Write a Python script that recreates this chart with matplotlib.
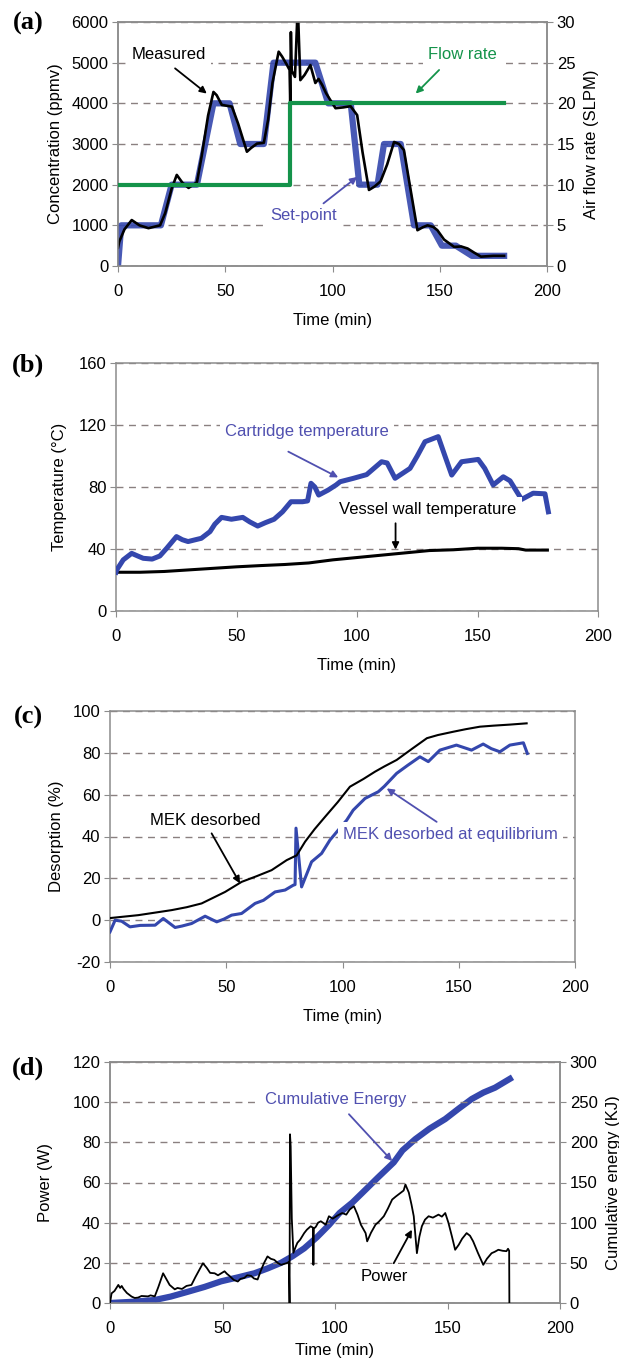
import matplotlib.pyplot as plt
import numpy as np

plt.rcParams['font.family'] = ['Liberation Sans', 'DejaVu Sans']
plt.rcParams['axes.unicode_minus'] = False

# --- (a) concentration / flow rate ---
set_t = [0, 1.5, 20, 25, 36.8, 44.5, 52, 57, 68, 72.5, 92, 98, 108.5, 112.5, 121, 124,
         131.8, 138, 145.8, 151, 157.5, 165, 180]
set_v = [0, 1000, 1000, 2000, 2000, 4000, 4000, 3000, 3000, 5000, 5000, 4000, 4000, 2000,
         2000, 3000, 3000, 1000, 1000, 500, 500, 250, 250]

meas_t = [0, 0.6, 3, 6.4, 10, 14.2, 19.6, 22, 25, 27.4,
          30, 32.9, 36.8, 39, 42, 44.5, 46, 48.4, 53.1, 56,
          60.1, 62, 64.8, 68, 70, 72, 74.9, 76.5, 78.8, 80.0,
          80.3, 80.6, 81.0, 82.5, 83.8, 85.0, 87.0, 89.7, 92, 93.5,
          95.2, 97, 99, 101.4, 105, 108.4, 111.5, 114, 117, 119.5,
          122.4, 125.5, 128.7, 131, 133.3, 136, 139.6, 142, 144.3, 147,
          148.9, 152, 156.7, 160, 163, 166, 169.2, 175, 180]
meas_v = [450, 600, 900, 1130, 1000, 930, 1000, 1300, 1900, 2240,
          2050, 1920, 2060, 2700, 3700, 4280, 4200, 3960, 3920, 3500,
          2810, 2900, 3010, 3030, 3600, 4500, 5270, 5150, 4940, 4820,
          4000, 5750, 4800, 4650, 6400, 4570, 4700, 4940, 4500, 4600,
          4450, 4250, 4080, 3880, 3900, 3930, 3710, 2800, 1870, 1950,
          2080, 2500, 3050, 3000, 2850, 2000, 880, 950, 1000, 960,
          880, 650, 470, 480, 430, 330, 230, 250, 250]

flow_t = [0, 80, 80, 180]
flow_v = [10, 10, 20, 20]

# --- (b) temperatures ---
cart_t = [0, 0.3, 3, 6.5, 9, 11.3, 15, 18.2, 21, 25.1,
          27.5, 29.9, 33, 35.4, 39, 41, 43.8, 47.9, 52.6, 55.5,
          58.8, 62, 65.6, 69.1, 72.6, 77.4, 79.5, 80.9, 82.5, 84.1,
          88, 91.3, 93, 98.5, 104, 110.2, 112.5, 115.8, 122, 125,
          128.2, 133.7, 136.5, 139.3, 143.4, 150.3, 153, 156.5, 160.7, 163.5,
          168.3, 173.1, 178, 179.4]
cart_v = [25, 26.5, 33, 37.2, 35.5, 34, 33.5, 35.5, 40.4, 48,
          46, 44.8, 46, 46.9, 51.2, 56, 60.4, 59.2, 60.4, 57.5,
          54.8, 57, 59.2, 64, 70.5, 70.5, 71, 82.4, 80, 74.8,
          78, 81.3, 83.4, 85.6, 88, 96.3, 95.5, 85.6, 92, 100,
          109.2, 112.5, 100, 87.7, 96.3, 97.8, 92, 81.3, 86.6, 84,
          72, 76, 75.6, 64]

wall_t = [0, 10, 20, 30, 40, 50, 60, 70, 80, 90,
          100, 110, 120, 130, 140, 150, 160, 167, 170, 179]
wall_v = [25, 25, 25.5, 26.5, 27.5, 28.5, 29.3, 30, 31, 33,
          34.5, 36, 37.5, 39, 39.5, 40.5, 40.5, 40.2, 39.3, 39.3]

# --- (c) desorption ---
mek_t = [0, 12.2, 26.5, 33, 39.4, 44, 49.5, 56.6, 63, 69.5, 76, 80.3,
         83.9, 88, 92.5, 98, 103.2, 109, 114, 118, 123.3, 130,
         136.3, 141, 147.7, 153, 159.1, 165, 172, 179.2]
mek_v = [1, 2.4, 4.8, 6.2, 8, 10.5, 13.5, 18.3, 21, 23.9, 28.7, 31,
         37.5, 43.5, 49.4, 56.5, 63.8, 67.5, 71, 73.5, 76.6, 82,
         87, 88.5, 90.1, 91.3, 92.5, 93, 93.5, 94.1]

eq_t = [0, 2.2, 5, 8.6, 13, 19.4, 22.9, 28, 31, 35.1,
        40.9, 45.9, 49, 52.3, 56.6, 62.4, 66, 71, 75.3, 78.8,
        79.6, 80.0, 82.4, 86.7, 91, 94.6, 98.2, 101.8, 104.6,
        109.7, 115.4, 118, 123.3, 128, 133.3, 136.9, 141.9, 149, 155.5,
        160.5, 164, 167.7, 172, 177.8, 179.5]
eq_v = [-5.6, 0, -0.5, -3.2, -2.5, -2.4, 0.8, -3.5, -2.8, -1.6,
        1.9, -0.8, 0.5, 2.4, 3.2, 8, 9.5, 13.5, 14.4, 16.7,
        17, 44, 15.9, 27.9, 31.9, 38.3, 43.1, 47.8, 52.6,
        58.2, 61.4, 64, 70.2, 74, 78.1, 75.8, 81.3, 83.7, 81.3,
        84.2, 82, 80.5, 83.7, 84.8, 79.7]

# --- (d) power / energy ---
pow_t = [0, 0.7, 2, 3.7, 4.5, 5.2, 6, 7.5, 9.6, 11,
         12.5, 14, 16.9, 18, 19.9, 21.5, 23.6, 25, 26.5, 28.8,
         30, 32, 34, 36.2, 38, 41.3, 43, 44.5, 46.5, 48,
         50.9, 52, 53.1, 55, 56.8, 58, 59.7, 61, 62.7, 64,
         65.6, 67, 68.5, 70, 71.5, 73, 74.5, 76, 77.5, 78.9,
         79.5, 79.8, 80.0, 80.3, 80.8, 81.5, 82.6, 83.3, 84.5, 86.3,
         87.5, 89.2, 90.2, 90.4, 90.6, 91.5, 92.5, 93.7, 95.9, 97.3,
         99, 101, 103.2, 105, 106.5, 108.4, 110, 111.5, 113.6, 114.3,
         116, 118, 119.5, 121.7, 123.5, 125.4, 127, 129.1, 130.5, 131.3,
         132.8, 134, 135, 136.4, 137.5, 138.6, 140, 141.6, 143.5, 146,
         147.5, 149, 150.4, 152, 153.4, 155, 156.5, 158.5, 160, 161.4,
         163.5, 165.9, 167.5, 169.6, 171, 172.6, 174.5, 176.2, 176.9, 177.4,
         177.5]
pow_v = [0, 4.8, 6, 9, 7.5, 8.5, 7, 5, 3.2, 2.5,
         2.7, 3.5, 3.3, 3.8, 3.3, 8, 14.8, 12, 9, 6.8,
         7.5, 7, 8.5, 9, 13, 19.8, 17.5, 15, 14.8, 13.8,
         15.8, 14.5, 13.5, 11.5, 10.7, 12, 12.5, 13.8, 13.5, 12.2,
         11.7, 16, 20, 23.2, 22, 21.5, 20, 19, 19.5, 20,
         20.5, 0, 84, 78, 42, 25, 28.2, 30, 31.5, 34.8,
         36.5, 38.2, 37.5, 19, 37, 38, 40, 40.7, 39, 43.2,
         42, 43.5, 44.8, 44, 46.5, 48.2, 44, 39, 34.8, 30.7,
         35, 39, 40.5, 43.2, 47, 51.5, 53, 54.8, 56, 59,
         55, 49, 43.2, 24.8, 33, 38.2, 41.5, 43.2, 42.5, 44,
         43, 44.8, 40, 33, 26.5, 29, 32, 34.8, 33.5, 30.7,
         25, 19, 22, 24.8, 25.5, 26.5, 26, 25.8, 27, 26,
         0]

ener_t = [0, 10, 19.9, 27, 34.6, 42, 49.4, 57, 64.2, 70,
          76, 81, 86.3, 92, 97.3, 102, 107.7, 112.1, 119, 126.1,
          130, 135.7, 142, 149, 155, 160.8, 166, 171.1, 177.7]
ener_v = [0, 1.5, 3.75, 8, 14, 20, 27, 32, 37, 43,
          50, 58, 68, 82, 97, 112, 125, 137, 156, 175,
          190, 204, 217, 229, 242, 254, 262, 268, 279]

W, H = 619, 1368
BLUE = '#3447ad'
TXTBLUE = '#5050b0'
GREEN = '#14934a'
GRAY = '#8c8c8c'
FS = 12


def box(l, t, r, b):
    return [l / W, 1 - b / H, (r - l) / W, (b - t) / H]


def style(ax, lo, hi, step):
    ax.set_xlim(0, 200)
    ax.set_xticks(range(0, 201, 50))
    ax.set_ylim(lo, hi)
    ax.set_yticks(np.arange(lo, hi + step / 2, step))
    for s in ax.spines.values():
        s.set_color(GRAY)
        s.set_linewidth(1.1)
    ax.tick_params(direction='out', length=4, color=GRAY, labelsize=FS)
    ax.tick_params(axis='x', pad=9)
    ax.tick_params(axis='y', pad=3)
    ax.yaxis.grid(True, ls=(0, (5, 4)), color='#8a8080', lw=1.0)
    ax.set_axisbelow(True)
    ax.set_xlabel('Time (min)', fontsize=FS)


def note(ax, s, xy, color, tail=None, head=None):
    ax.text(xy[0], xy[1], s, fontsize=FS, color=color, ha='center', va='center',
            zorder=6, bbox=dict(boxstyle='square,pad=0.3', fc='white', ec='none'))
    if tail is not None:
        ax.annotate('', xy=head, xytext=tail, zorder=7,
                    arrowprops=dict(arrowstyle='-|>', color=color, lw=1.3,
                                    mutation_scale=10, shrinkA=0, shrinkB=0))


fig = plt.figure(figsize=(W / 100, H / 100), dpi=100)

# (a)
ax = fig.add_axes(box(118, 22, 547, 266))
style(ax, 0, 6000, 1000)
ax.plot(set_t, set_v, color=BLUE, lw=4.5, alpha=0.9, zorder=3)
ax.plot(meas_t, meas_v, color='black', lw=1.9, zorder=4)
ax.set_ylabel('Concentration (ppmv)', fontsize=FS, labelpad=6)
ax.xaxis.labelpad = 10
ax2 = ax.twinx()
ax2.set_ylim(0, 30)
ax2.set_yticks(range(0, 31, 5))
ax2.plot(flow_t, flow_v, color=GREEN, lw=3, zorder=3)
for s in ax2.spines.values():
    s.set_color(GRAY)
    s.set_linewidth(1.1)
ax2.tick_params(direction='out', length=4, color=GRAY, labelsize=FS, pad=3)
ax2.set_ylabel('Air flow rate (SLPM)', fontsize=FS, labelpad=6)
note(ax2, 'Measured', (23.8, 26.0), 'black', (26.6, 24.3), (41.4, 21.2))
note(ax2, 'Set-point', (86.6, 6.15), TXTBLUE, (95.8, 7.7), (111.5, 10.95))
note(ax2, 'Flow rate', (160.4, 26.0), GREEN, (149.7, 24.1), (138.8, 21.2))

# (b)
ax = fig.add_axes(box(116, 363, 598, 611))
style(ax, 0, 160, 40)
ax.plot(wall_t, wall_v, color='black', lw=2.2, zorder=3)
ax.plot(cart_t, cart_v, color=BLUE, lw=3.6, zorder=4)
ax.set_ylabel('Temperature (\u00b0C)', fontsize=FS, labelpad=8)
ax.xaxis.labelpad = 10
note(ax, 'Cartridge temperature', (79.1, 115.5), TXTBLUE, (71.5, 102.8), (92.2, 86.2))
note(ax, 'Vessel wall temperature', (129.5, 65.8), 'black', (116, 56.6), (116, 39.6))

# (c)
ax = fig.add_axes(box(110, 711, 575, 962))
style(ax, -20, 100, 20)
ax.plot(mek_t, mek_v, color='black', lw=1.5, zorder=4)
ax.plot(eq_t, eq_v, color=BLUE, lw=2.2, zorder=3)
ax.set_ylabel('Desorption (%)', fontsize=FS, labelpad=6)
ax.xaxis.labelpad = 10
note(ax, 'MEK desorbed', (40.9, 47.8), 'black', (43.7, 41.5), (55.9, 17.6))
note(ax, 'MEK desorbed at equilibrium', (146.6, 41.1), TXTBLUE, (140.5, 47), (119, 63))

# (d)
ax = fig.add_axes(box(110, 1062, 560, 1303))
style(ax, 0, 120, 20)
ax.plot(pow_t, pow_v, color='black', lw=1.3, zorder=4)
ax.set_ylabel('Power (W)', fontsize=FS, labelpad=14)
ax.xaxis.labelpad = 5
ax2 = ax.twinx()
ax2.set_ylim(0, 300)
ax2.set_yticks(range(0, 301, 50))
ax2.plot(ener_t, ener_v, color=BLUE, lw=4.5, zorder=3)
for s in ax2.spines.values():
    s.set_color(GRAY)
    s.set_linewidth(1.1)
ax2.tick_params(direction='out', length=4, color=GRAY, labelsize=FS, pad=3)
ax2.set_ylabel('Cumulative energy (KJ)', fontsize=FS, labelpad=6)
ax.set_zorder(ax2.get_zorder() + 1)
ax.patch.set_visible(False)
note(ax, 'Cumulative Energy', (100.4, 101.5), TXTBLUE, (106.2, 94), (125.4, 70.7))
note(ax, 'Power', (121.7, 13), 'black', (126.1, 19.8), (134.2, 36.5))

for lab, y in [('(a)', 23), ('(b)', 365), ('(c)', 717), ('(d)', 1068)]:
    fig.text(28 / W, 1 - y / H, lab, fontsize=19, fontweight='bold',
             family='Liberation Serif', ha='center', va='center')

fig.savefig('out.png', dpi=100)
